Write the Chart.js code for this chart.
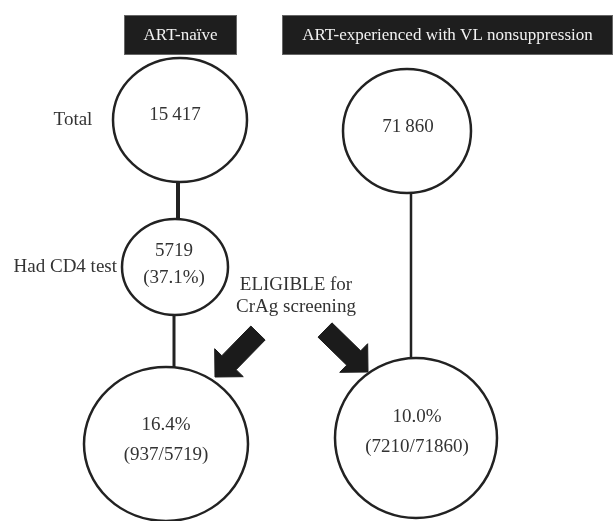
<!DOCTYPE html>
<html>
<head>
<meta charset="utf-8">
<script src="https://cdn.jsdelivr.net/npm/chart.js@4.4.1/dist/chart.umd.min.js"></script>
<style>
  html, body { margin: 0; padding: 0; background: #fff; }
  #wrap { width: 615px; height: 521px; }
</style>
</head>
<body>
<div id="wrap"><canvas id="flow" width="615" height="521"></canvas></div>
<script>
// ============================================================
// CrAg screening eligibility flow — drawn on hidden linear axes
// ============================================================

// ---- DATA ----
const groupNames    = ['ART-naïve', 'ART-experienced with VL nonsuppression'];
const stepNames     = ['Total', 'Had CD4 test'];
const groupTotals   = [15417, 71860];
const cd4Tested     = [5719];
const cd4TestedPct  = [37.1];
const eligibleCount = [937, 7210];
const eligibleDenom = [5719, 71860];
const eligiblePct   = [16.4, 10.0];
const eligibleNote  = ['ELIGIBLE for', 'CrAg screening'];

// ---- LAYOUT (axes run 0..615 / 0..521, so one unit = one pixel) ----
const W = 615, H = 521;
const FONT = '"Liberation Serif", "Times New Roman", serif';
const INK = '#222';
const TXT = '#333';

const nodes = {
  naiveTotal: { x: 180, y: 120, rx: 67, ry: 62 },
  naiveCD4:   { x: 175, y: 267, rx: 53, ry: 48 },
  naiveElig:  { x: 166, y: 444, rx: 82, ry: 77 },
  expTotal:   { x: 407, y: 131, rx: 64, ry: 62 },
  expElig:    { x: 416, y: 438, rx: 81, ry: 80 },
};

const connectors = [
  { x: 178, from: 'naiveTotal', to: 'naiveCD4',  w: 4 },
  { x: 174, from: 'naiveCD4',   to: 'naiveElig', w: 3 },
  { x: 411, from: 'expTotal',   to: 'expElig',   w: 2.5 },
];

const arrows = [
  { tail: [258, 333], tip: [215, 377] },
  { tail: [325, 330], tip: [368, 372] },
];

const headers = [
  { x0: 124, x1: 237, y0: 15, y1: 55 },
  { x0: 282, x1: 613, y0: 15, y1: 55 },
];

// ---- helpers ----
function fmtCount(n) {
  const s = String(n);
  return n >= 10000 ? s.replace(/\B(?=(\d{3})+(?!\d))/g, '\u2009') : s;
}

function arrowPolygon(a) {
  const dx = a.tip[0] - a.tail[0], dy = a.tip[1] - a.tail[1];
  const len = Math.hypot(dx, dy);
  const ux = dx / len, uy = dy / len;
  const nx = -uy, ny = ux;
  const headLen = 20, headHalf = 20, shaftHalf = 10;
  const bx = a.tip[0] - ux * headLen, by = a.tip[1] - uy * headLen;
  const pts = [
    [a.tail[0] + nx * shaftHalf, a.tail[1] + ny * shaftHalf],
    [bx + nx * shaftHalf, by + ny * shaftHalf],
    [bx + nx * headHalf,  by + ny * headHalf],
    [a.tip[0], a.tip[1]],
    [bx - nx * headHalf,  by - ny * headHalf],
    [bx - nx * shaftHalf, by - ny * shaftHalf],
    [a.tail[0] - nx * shaftHalf, a.tail[1] - ny * shaftHalf],
  ];
  pts.push(pts[0]);
  return pts.map(p => ({ x: p[0], y: p[1] }));
}

// ---- text placed in the diagram ----
const texts = [
  // circle contents
  { t: fmtCount(groupTotals[0]), x: 175, y: 115 },
  { t: fmtCount(cd4Tested[0]), x: 174, y: 251 },
  { t: '(' + cd4TestedPct[0].toFixed(1) + '%)', x: 174, y: 278 },
  { t: eligiblePct[0].toFixed(1) + '%', x: 166, y: 425 },
  { t: '(' + eligibleCount[0] + '/' + eligibleDenom[0] + ')', x: 166, y: 455 },
  { t: fmtCount(groupTotals[1]), x: 408, y: 127 },
  { t: eligiblePct[1].toFixed(1) + '%', x: 417, y: 417 },
  { t: '(' + eligibleCount[1] + '/' + eligibleDenom[1] + ')', x: 417, y: 447 },
  // row labels
  { t: stepNames[0], x: 73, y: 120 },
  { t: stepNames[1], x: 117, y: 267, align: 'right' },
  // note between the arrows
  { t: eligibleNote[0], x: 296, y: 285 },
  { t: eligibleNote[1], x: 296, y: 307 },
];

// ---- datasets ----
const datasets = [];
connectors.forEach(c => {
  const a = nodes[c.from], b = nodes[c.to];
  datasets.push({
    type: 'line',
    data: [{ x: c.x, y: a.y + a.ry }, { x: c.x, y: b.y - b.ry }],
    borderColor: INK,
    borderWidth: c.w,
    pointRadius: 0,
    fill: false,
  });
});
arrows.forEach(a => {
  datasets.push({
    type: 'line',
    data: arrowPolygon(a),
    borderColor: '#1b1b1b',
    backgroundColor: '#1b1b1b',
    borderWidth: 1,
    pointRadius: 0,
    tension: 0,
    fill: 'shape',
  });
});

// ---- plugin: circles, header boxes, texts ----
const diagramPlugin = {
  id: 'diagram',
  afterDatasetsDraw(chart) {
    const ctx = chart.ctx;
    const sx = chart.scales.x, sy = chart.scales.y;
    const px = v => sx.getPixelForValue(v);
    const py = v => sy.getPixelForValue(v);
    ctx.save();

    // ellipses
    Object.values(nodes).forEach(n => {
      const rx = Math.abs(px(n.x + n.rx) - px(n.x));
      const ry = Math.abs(py(n.y + n.ry) - py(n.y));
      ctx.beginPath();
      ctx.ellipse(px(n.x), py(n.y), rx, ry, 0, 0, Math.PI * 2);
      ctx.lineWidth = 2.5;
      ctx.strokeStyle = INK;
      ctx.stroke();
    });

    // header boxes
    headers.forEach((h, i) => {
      const x0 = px(h.x0), x1 = px(h.x1), y0 = py(h.y0), y1 = py(h.y1);
      ctx.fillStyle = '#1e1e1e';
      ctx.fillRect(x0, y0, x1 - x0, y1 - y0);
      ctx.strokeStyle = '#666';
      ctx.lineWidth = 1;
      ctx.strokeRect(x0 + 0.5, y0 + 0.5, x1 - x0 - 1, y1 - y0 - 1);
      ctx.fillStyle = '#f2f2f2';
      ctx.font = '17px ' + FONT;
      ctx.textAlign = 'center';
      ctx.textBaseline = 'middle';
      ctx.fillText(groupNames[i], (x0 + x1) / 2, (y0 + y1) / 2 + 1);
    });

    // labels
    ctx.fillStyle = TXT;
    ctx.font = '19px ' + FONT;
    ctx.textBaseline = 'middle';
    texts.forEach(t => {
      ctx.textAlign = t.align || 'center';
      ctx.fillText(t.t, px(t.x), py(t.y));
    });

    ctx.restore();
  }
};

new Chart(document.getElementById('flow'), {
  type: 'scatter',
  data: { datasets },
  options: {
    responsive: false,
    devicePixelRatio: 1,
    animation: false,
    events: [],
    layout: { padding: 0 },
    plugins: { legend: { display: false }, tooltip: { enabled: false } },
    scales: {
      x: { type: 'linear', min: 0, max: W, display: false },
      y: { type: 'linear', min: 0, max: H, reverse: true, display: false },
    }
  },
  plugins: [diagramPlugin]
});
</script>
</body>
</html>
